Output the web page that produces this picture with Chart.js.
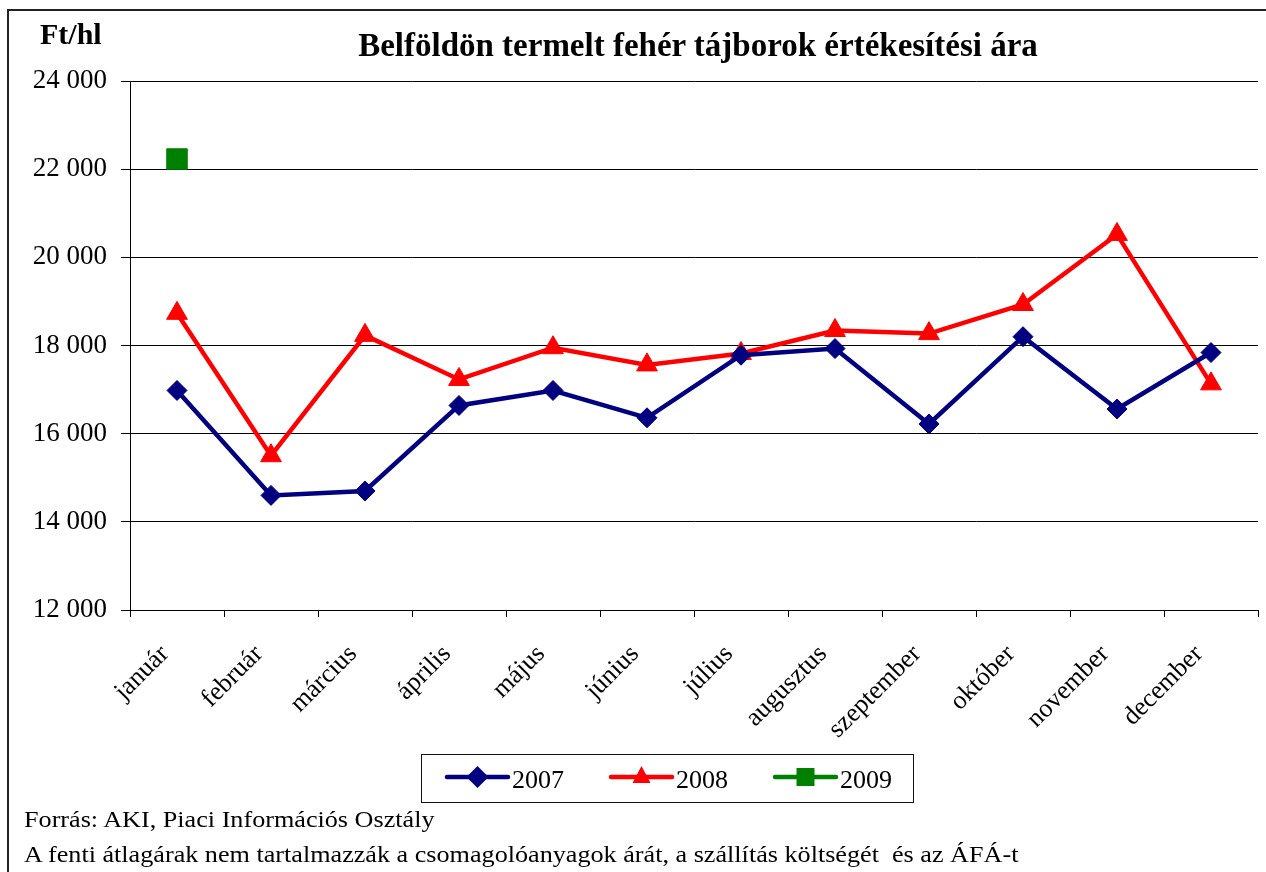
<!DOCTYPE html>
<html>
<head>
<meta charset="utf-8">
<title>Belföldön termelt fehér tájborok értékesítési ára</title>
<script src="https://cdn.jsdelivr.net/npm/chart.js@4.4.1/dist/chart.umd.min.js"></script>
<style>
  body { margin: 0; background: #fff; }
  #wrap { position: relative; width: 1266px; height: 872px; overflow: hidden;
          font-family: "Liberation Serif", "Times New Roman", serif; color: #000; }
  #frame { position: absolute; left: 7px; top: 9px; width: 1300px; height: 900px;
           border-top: 2px solid #222; border-left: 2px solid #222; }
  canvas { position: absolute; left: 0; top: 0; }
  .unit { position: absolute; left: 40px; top: 19px; font-weight: bold; font-size: 30px; line-height: 1; }
  .title { position: absolute; left: 130px; width: 1136px; top: 29px; text-align: center;
           font-weight: bold; font-size: 33px; line-height: 1; white-space: nowrap; }
  .note { position: absolute; left: 24px; font-size: 24px; line-height: 1; white-space: pre;
          transform: scaleX(1.09); transform-origin: left top; }
</style>
</head>
<body>
<div id="wrap">
  <div id="frame"></div>
  <canvas id="priceChart" width="1266" height="872"></canvas>
  <div class="unit">Ft/hl</div>
  <div class="title">Belföldön termelt fehér tájborok értékesítési ára</div>
  <div class="note" style="top:807px">Forrás: AKI, Piaci Információs Osztály</div>
  <div class="note" style="top:842px">A fenti átlagárak nem tartalmazzák a csomagolóanyagok árát, a szállítás költségét  és az ÁFÁ-t</div>
</div>

<script>
// data
const months = ["január", "február", "március", "április", "május", "június",
  "július", "augusztus", "szeptember", "október", "november", "december"];
const years = ["2007", "2008", "2009"];
const price2007 = [16980, 14600, 14700, 16640, 16980, 16360, 17780, 17930, 16220, 18200, 16560, 17840];
const price2008 = [18730, 15500, 18230, 17230, 17950, 17560, 17820, 18340, 18270, 18930, 20520, 17130];
const price2009 = [22230, null, null, null, null, null, null, null, null, null, null, null];
const yMin = 12000;
const yMax = 24000;
const yStep = 2000;

const NAVY = "#000080";
const RED = "#ff0000";
const GREEN = "#008000";
const FONT = "'Liberation Serif', 'Times New Roman', serif";

// thousands separated by a space: 24 000
function formatHu(v) {
  return String(v).replace(/\B(?=(\d{3})+(?!\d))/g, " ");
}

function drawMarker(ctx, shape, x, y, color) {
  ctx.save();
  ctx.fillStyle = color;
  ctx.beginPath();
  if (shape === "diamond") {
    ctx.moveTo(x, y - 11); ctx.lineTo(x + 11, y); ctx.lineTo(x, y + 11); ctx.lineTo(x - 11, y);
  } else if (shape === "triangle") {
    ctx.moveTo(x, y - 11); ctx.lineTo(x + 9, y + 6); ctx.lineTo(x - 9, y + 6);
  } else {
    ctx.rect(x - 9, y - 9, 18, 18);
  }
  ctx.closePath();
  ctx.fill();
  ctx.restore();
}

// legend box under the chart, line + marker like the spreadsheet one
const boxLegend = {
  id: "boxLegend",
  afterDraw(chart) {
    const ctx = chart.ctx;
    const items = [
      { label: years[0], color: NAVY, shape: "diamond", x: 447 },
      { label: years[1], color: RED, shape: "triangle", x: 611 },
      { label: years[2], color: GREEN, shape: "square", x: 775 }
    ];
    ctx.save();
    ctx.strokeStyle = "#111";
    ctx.lineWidth = 1;
    ctx.strokeRect(421.5, 754.5, 492, 48);
    const cy = 777;
    items.forEach(it => {
      ctx.strokeStyle = it.color;
      ctx.lineWidth = 4.5;
      ctx.lineCap = "round";
      ctx.beginPath();
      ctx.moveTo(it.x, cy);
      ctx.lineTo(it.x + 61, cy);
      ctx.stroke();
      drawMarker(ctx, it.shape, it.x + 30.5, cy, it.color);
      ctx.fillStyle = "#000";
      ctx.font = "26px " + FONT;
      ctx.textBaseline = "alphabetic";
      ctx.fillText(it.label, it.x + 65, 788);
    });
    ctx.restore();
  }
};

const ctx = document.getElementById("priceChart").getContext("2d");
new Chart(ctx, {
  type: "line",
  data: {
    labels: months,
    datasets: [
      {
        label: years[0],
        data: price2007,
        borderColor: NAVY,
        backgroundColor: NAVY,
        borderWidth: 4.5,
        pointStyle: "rectRot",
        pointRadius: 10,
        pointBorderWidth: 1,
        tension: 0
      },
      {
        label: years[1],
        data: price2008,
        borderColor: RED,
        backgroundColor: RED,
        borderWidth: 4.5,
        pointStyle: "triangle",
        pointRadius: 12,
        pointBorderWidth: 1,
        tension: 0
      },
      {
        label: years[2],
        data: price2009,
        borderColor: GREEN,
        backgroundColor: GREEN,
        borderWidth: 4.5,
        pointStyle: "rect",
        pointRadius: 14.5,
        pointBorderWidth: 1,
        spanGaps: false
      }
    ]
  },
  options: {
    responsive: false,
    animation: false,
    layout: { autoPadding: false, padding: { top: 81, right: 8, bottom: 0, left: 0 } },
    plugins: {
      legend: { display: false },
      title: { display: false },
      tooltip: { enabled: false }
    },
    scales: {
      x: {
        offset: true,
        grid: { display: true, drawOnChartArea: false, drawTicks: true, tickLength: 7, color: "#000", offset: true },
        border: { display: true, color: "#000", width: 1 },
        ticks: {
          autoSkip: false,
          minRotation: 45,
          maxRotation: 45,
          padding: 22,
          labelOffset: -12,
          color: "#000",
          font: { family: FONT, size: 26 }
        },
        afterFit(scale) {
          scale.height = 262;
          // rotated labels would otherwise push the plot in from the right
          scale.paddingRight = 0;
          scale.paddingLeft = 0;
        }
      },
      y: {
        min: yMin,
        max: yMax,
        grid: { color: "#000", lineWidth: 1, drawTicks: true, tickLength: 9 },
        border: { display: true, color: "#000", width: 1 },
        ticks: {
          stepSize: yStep,
          padding: 14,
          color: "#000",
          font: { family: FONT, size: 27 },
          callback: v => formatHu(v)
        },
        afterFit(scale) { scale.width = 130; }
      }
    }
  },
  plugins: [boxLegend]
});
</script>
</body>
</html>
